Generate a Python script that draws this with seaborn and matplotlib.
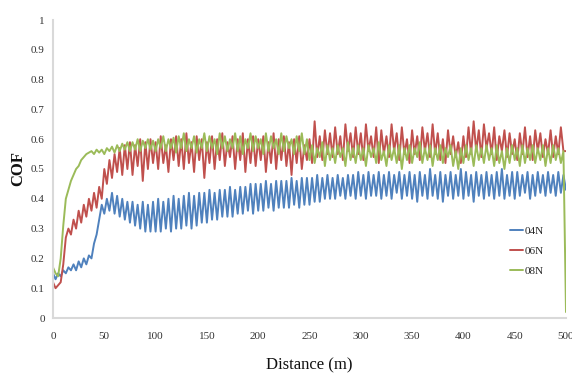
import numpy as np
import pandas as pd
import matplotlib
matplotlib.use("Agg")
import matplotlib.pyplot as plt
import seaborn as sns

# ---------------- data (step 2.5 m) ----------------
series_names = ["04N", "06N", "08N"]
series_colors = ["#4f81bd", "#c0504d", "#9bbb59"]

cof_04n = [
    0.15, 0.13, 0.15, 0.14, 0.16, 0.15, 0.17, 0.16, 0.18, 0.16,
    0.19, 0.17, 0.20, 0.18, 0.21, 0.20, 0.25, 0.28, 0.33, 0.38,
    0.35, 0.40, 0.36, 0.42, 0.35, 0.41, 0.34, 0.40, 0.33, 0.39,
    0.32, 0.39, 0.31, 0.38, 0.30, 0.39, 0.29, 0.38, 0.29, 0.39,
    0.29, 0.40, 0.29, 0.39, 0.30, 0.40, 0.29, 0.41, 0.30, 0.40,
    0.30, 0.41, 0.31, 0.42, 0.30, 0.41, 0.31, 0.42, 0.32, 0.42,
    0.32, 0.43, 0.33, 0.42, 0.33, 0.43, 0.34, 0.43, 0.34, 0.44,
    0.34, 0.43, 0.35, 0.44, 0.35, 0.44, 0.36, 0.45, 0.35, 0.45,
    0.36, 0.45, 0.36, 0.46, 0.37, 0.45, 0.36, 0.46, 0.37, 0.46,
    0.37, 0.46, 0.37, 0.47, 0.38, 0.46, 0.37, 0.47, 0.38, 0.47,
    0.38, 0.47, 0.39, 0.48, 0.39, 0.47, 0.40, 0.48, 0.40, 0.47,
    0.40, 0.48, 0.41, 0.47, 0.40, 0.48, 0.41, 0.48, 0.40, 0.49,
    0.41, 0.48, 0.40, 0.49, 0.41, 0.48, 0.41, 0.49, 0.40, 0.48,
    0.41, 0.49, 0.40, 0.48, 0.42, 0.49, 0.40, 0.48, 0.41, 0.49,
    0.40, 0.48, 0.39, 0.49, 0.41, 0.48, 0.40, 0.50, 0.41, 0.48,
    0.40, 0.49, 0.39, 0.48, 0.41, 0.49, 0.40, 0.48, 0.41, 0.50,
    0.40, 0.49, 0.41, 0.48, 0.39, 0.49, 0.41, 0.48, 0.40, 0.49,
    0.41, 0.48, 0.40, 0.49, 0.41, 0.50, 0.40, 0.48, 0.41, 0.49,
    0.40, 0.49, 0.41, 0.48, 0.42, 0.49, 0.40, 0.48, 0.41, 0.49,
    0.42, 0.48, 0.41, 0.49, 0.42, 0.48, 0.41, 0.49, 0.42, 0.48,
    0.43,
]

cof_06n = [
    0.12, 0.10, 0.11, 0.12, 0.18, 0.27, 0.30, 0.28, 0.33, 0.30,
    0.36, 0.32, 0.38, 0.34, 0.40, 0.36, 0.42, 0.37, 0.44, 0.40,
    0.50, 0.45, 0.53, 0.47, 0.55, 0.49, 0.57, 0.48, 0.58, 0.50,
    0.59, 0.48, 0.58, 0.51, 0.60, 0.46, 0.59, 0.50, 0.60, 0.52,
    0.59, 0.50, 0.61, 0.52, 0.58, 0.49, 0.60, 0.53, 0.61, 0.51,
    0.60, 0.50, 0.62, 0.52, 0.59, 0.49, 0.61, 0.53, 0.60, 0.47,
    0.59, 0.52, 0.61, 0.50, 0.60, 0.53, 0.62, 0.51, 0.59, 0.54,
    0.61, 0.50, 0.60, 0.53, 0.62, 0.49, 0.60, 0.52, 0.61, 0.51,
    0.60, 0.53, 0.61, 0.49, 0.59, 0.52, 0.62, 0.50, 0.60, 0.53,
    0.61, 0.51, 0.59, 0.48, 0.60, 0.52, 0.61, 0.50, 0.58, 0.53,
    0.60, 0.52, 0.66, 0.54, 0.61, 0.53, 0.63, 0.55, 0.62, 0.54,
    0.64, 0.55, 0.61, 0.53, 0.65, 0.56, 0.62, 0.54, 0.64, 0.55,
    0.62, 0.53, 0.65, 0.56, 0.61, 0.54, 0.64, 0.52, 0.63, 0.55,
    0.61, 0.54, 0.65, 0.56, 0.62, 0.53, 0.64, 0.55, 0.60, 0.52,
    0.63, 0.55, 0.61, 0.53, 0.64, 0.56, 0.62, 0.54, 0.65, 0.55,
    0.62, 0.53, 0.60, 0.52, 0.63, 0.55, 0.61, 0.54, 0.59, 0.52,
    0.61, 0.54, 0.64, 0.55, 0.66, 0.56, 0.63, 0.54, 0.65, 0.57,
    0.62, 0.55, 0.64, 0.53, 0.61, 0.56, 0.63, 0.54, 0.62, 0.55,
    0.60, 0.53, 0.62, 0.55, 0.64, 0.54, 0.61, 0.53, 0.63, 0.56,
    0.62, 0.54, 0.60, 0.55, 0.63, 0.54, 0.61, 0.55, 0.64, 0.56,
    0.56,
]

cof_08n = [
    0.17, 0.15, 0.14, 0.20, 0.31, 0.40, 0.43, 0.46, 0.48, 0.50,
    0.51, 0.53, 0.54, 0.55, 0.555, 0.56, 0.55, 0.565, 0.555, 0.565,
    0.55, 0.57, 0.56, 0.575, 0.555, 0.58, 0.56, 0.585, 0.565, 0.59,
    0.56, 0.59, 0.565, 0.60, 0.56, 0.595, 0.57, 0.60, 0.565, 0.595,
    0.56, 0.60, 0.57, 0.61, 0.56, 0.60, 0.57, 0.605, 0.555, 0.61,
    0.57, 0.62, 0.56, 0.60, 0.57, 0.61, 0.555, 0.60, 0.57, 0.62,
    0.56, 0.61, 0.57, 0.60, 0.55, 0.62, 0.57, 0.61, 0.56, 0.60,
    0.57, 0.62, 0.56, 0.61, 0.55, 0.60, 0.57, 0.62, 0.56, 0.61,
    0.57, 0.60, 0.55, 0.62, 0.56, 0.61, 0.57, 0.60, 0.55, 0.62,
    0.56, 0.61, 0.57, 0.60, 0.55, 0.61, 0.56, 0.62, 0.55, 0.60,
    0.53, 0.58, 0.52, 0.57, 0.54, 0.59, 0.51, 0.58, 0.53, 0.57,
    0.52, 0.58, 0.54, 0.57, 0.51, 0.59, 0.53, 0.57, 0.52, 0.58,
    0.53, 0.57, 0.51, 0.58, 0.54, 0.57, 0.52, 0.59, 0.53, 0.56,
    0.51, 0.58, 0.53, 0.57, 0.52, 0.58, 0.50, 0.57, 0.53, 0.58,
    0.52, 0.57, 0.54, 0.59, 0.52, 0.57, 0.53, 0.58, 0.51, 0.57,
    0.53, 0.58, 0.52, 0.57, 0.54, 0.58, 0.51, 0.56, 0.50, 0.57,
    0.52, 0.58, 0.53, 0.57, 0.51, 0.58, 0.53, 0.57, 0.52, 0.58,
    0.53, 0.57, 0.51, 0.58, 0.52, 0.56, 0.50, 0.57, 0.52, 0.58,
    0.53, 0.57, 0.51, 0.58, 0.52, 0.57, 0.53, 0.58, 0.52, 0.57,
    0.53, 0.58, 0.51, 0.57, 0.52, 0.58, 0.53, 0.57, 0.52, 0.56,
    0.02,
]

distance = np.linspace(0, 500, len(cof_04n))

x_ticks = [0, 50, 100, 150, 200, 250, 300, 350, 400, 450, 500]
y_ticks = [0, 0.1, 0.2, 0.3, 0.4, 0.5, 0.6, 0.7, 0.8, 0.9, 1]
y_tick_labels = ["0", "0.1", "0.2", "0.3", "0.4", "0.5", "0.6", "0.7", "0.8", "0.9", "1"]

# ---------------- plotting ----------------
sns.set_theme(style="white")
plt.rcParams["font.family"] = ["Liberation Serif", "DejaVu Serif"]

fig = plt.figure(figsize=(5.72, 3.77), dpi=100)
ax = fig.add_axes([53 / 572, 59 / 377, 513 / 572, 298 / 377])

for name, vals, col in zip(series_names, [cof_04n, cof_06n, cof_08n], series_colors):
    df = pd.DataFrame({"Distance": distance, "COF": vals})
    sns.lineplot(data=df, x="Distance", y="COF", ax=ax, color=col,
                 linewidth=1.4, label=name, sort=False, estimator=None)

ax.set_xlim(0, 500)
ax.set_ylim(0, 1)
ax.set_xticks(x_ticks)
ax.set_xticklabels([str(t) for t in x_ticks])
ax.set_yticks(y_ticks)
ax.set_yticklabels(y_tick_labels)
ax.tick_params(axis="both", length=0, labelsize=8, colors="#333333")
ax.tick_params(axis="x", pad=10)
ax.tick_params(axis="y", pad=6)

for s in ["top", "right"]:
    ax.spines[s].set_visible(False)
for s in ["left", "bottom"]:
    ax.spines[s].set_color("#d9d9d9")
    ax.spines[s].set_linewidth(1.5)
ax.grid(False)

ax.set_xlabel("Distance (m)", fontsize=12, color="#111111", labelpad=12)
ax.set_ylabel("COF", fontsize=12, fontweight="bold", color="#111111", labelpad=3)

ax.legend(loc="center left", bbox_to_anchor=(0.89, 0.225), frameon=False,
          fontsize=8, handlelength=1.2, handletextpad=0.15, labelspacing=0.9,
          borderpad=0, borderaxespad=0)

fig.savefig("out.png", dpi=100)
